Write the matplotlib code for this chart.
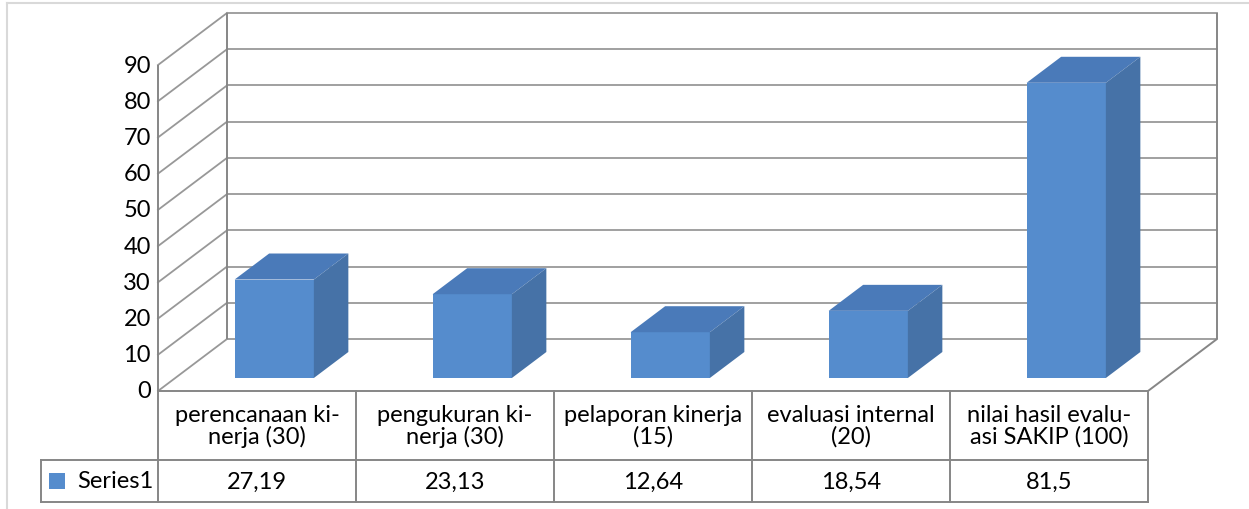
import matplotlib
matplotlib.use("Agg")
import matplotlib.pyplot as plt
from matplotlib.patches import Polygon

categories = ["perencanaan ki-\nnerja (30)", "pengukuran ki-\nnerja (30)",
              "pelaporan kinerja\n(15)", "evaluasi internal\n(20)",
              "nilai hasil evalu-\nasi SAKIP (100)"]
values = [27.19, 23.13, 12.64, 18.54, 81.5]
value_labels = ["27,19", "23,13", "12,64", "18,54", "81,5"]
series_name = "Series1"
y_ticks = [0, 10, 20, 30, 40, 50, 60, 70, 80, 90]

W, H = 1249, 510
fig = plt.figure(figsize=(W / 100, H / 100), dpi=100)
ax = fig.add_axes([0, 0, 1, 1])
PX_X = 198.0
PX_Y = 326.0 / 90.0
X0, Y0 = 158.0, 392.0
ax.set_xlim(-X0 / PX_X, (W - X0) / PX_X)
ax.set_ylim(-(H - Y0) / PX_Y, Y0 / PX_Y)
ax.axis('off')

DX = 69 / PX_X
DY = 52 / PX_Y
n = len(categories)
ymax = y_ticks[-1]
ROW1 = -(461 - Y0) / PX_Y
ROW2 = -(503 - Y0) / PX_Y
LEG_L = (41 - X0) / PX_X

FONT = "Lato"
FS = 17
wall = dict(color="#868686", lw=1.4, solid_capstyle="butt", zorder=1)
grid = dict(color="#989898", lw=1.3, zorder=1)

def px2x(p):
    return (p - X0) / PX_X

def px2y(p):
    return (Y0 - p) / PX_Y

# outer frame
ax.plot([px2x(7), px2x(1249)], [px2y(4), px2y(4)], color="#D9D9D9", lw=1.5)
ax.plot([px2x(7), px2x(7)], [px2y(4), px2y(510)], color="#D9D9D9", lw=1.5)

# walls and gridlines
for t in y_ticks:
    ax.plot([DX, n + DX], [t + DY, t + DY], **grid)
    ax.plot([0, DX], [t, t + DY], **grid)
ax.plot([0, 0], [0, ymax], **wall)
ax.plot([DX, DX], [DY, ymax + DY], **wall)
ax.plot([n + DX, n + DX], [DY, ymax + DY], **wall)
ax.plot([0, n], [0, 0], **wall)
ax.plot([n, n + DX], [0, DY], **wall)

# bars
FRONT = "#558CCD"
TOP = "#4A7AB9"
SIDE = "#4672A7"
bw = 0.40
d0, d1 = 0.25, 0.75
for i, v in enumerate(values):
    xl = i + 0.5 - bw / 2 + d0 * DX
    xr = xl + bw
    yb = d0 * DY
    yt = yb + v
    ddx = (d1 - d0) * DX
    ddy = (d1 - d0) * DY
    ax.add_patch(Polygon([(xl, yb), (xr, yb), (xr, yt), (xl, yt)], closed=True,
                         facecolor=FRONT, edgecolor="none", zorder=3))
    ax.add_patch(Polygon([(xl, yt), (xr, yt), (xr + ddx, yt + ddy), (xl + ddx, yt + ddy)],
                         closed=True, facecolor=TOP, edgecolor="none", zorder=3))
    ax.add_patch(Polygon([(xr, yb), (xr + ddx, yb + ddy), (xr + ddx, yt + ddy), (xr, yt)],
                         closed=True, facecolor=SIDE, edgecolor="none", zorder=3))

# y tick labels
for t in y_ticks:
    ax.text(-7 / PX_X, t, str(t), ha="right", va="center", fontsize=FS,
            family=FONT, color="#000000")

# data table
tbl = dict(color="#868686", lw=1.4, zorder=2)
for i in range(n + 1):
    ax.plot([i, i], [0, ROW2], **tbl)
ax.plot([LEG_L, n], [ROW1, ROW1], **tbl)
ax.plot([LEG_L, n], [ROW2, ROW2], **tbl)
ax.plot([LEG_L, LEG_L], [ROW1, ROW2], **tbl)

for i, c in enumerate(categories):
    ax.text(i + 0.5, ROW1 / 2, c, ha="center", va="center", fontsize=FS,
            family=FONT, linespacing=1.0)
    ax.text(i + 0.5, (ROW1 + ROW2) / 2, value_labels[i], ha="center", va="center",
            fontsize=FS, family=FONT)

# legend key
ax.add_patch(Polygon([(px2x(49), px2y(474)), (px2x(65), px2y(474)),
                      (px2x(65), px2y(490)), (px2x(49), px2y(490))],
                     closed=True, facecolor=FRONT, edgecolor="none"))
ax.text(px2x(77), (ROW1 + ROW2) / 2, series_name, ha="left", va="center",
        fontsize=FS, family=FONT)

fig.savefig("out.png", dpi=100)
